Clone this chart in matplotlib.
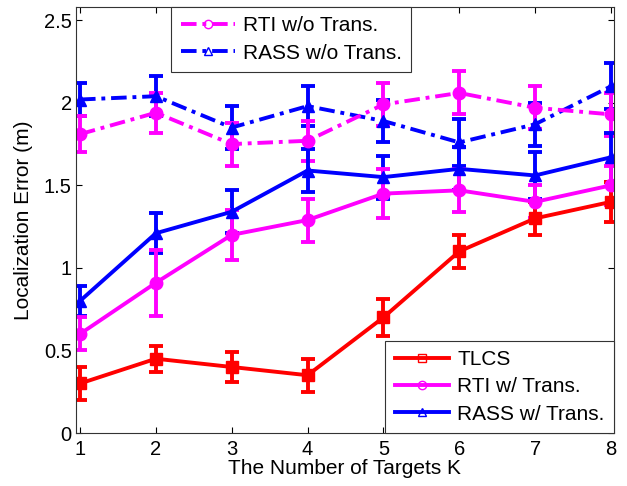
import matplotlib
matplotlib.use("Agg")
import matplotlib.pyplot as plt
from matplotlib.lines import Line2D

plt.rcParams['font.family'] = ['Liberation Sans', 'DejaVu Sans']

K = [1, 2, 3, 4, 5, 6, 7, 8]
tlcs = [0.30, 0.45, 0.40, 0.35, 0.70, 1.10, 1.30, 1.40]
tlcs_err = [0.10, 0.08, 0.09, 0.10, 0.11, 0.10, 0.10, 0.12]
rti_w = [0.60, 0.91, 1.20, 1.29, 1.45, 1.47, 1.40, 1.50]
rti_w_err = [0.10, 0.20, 0.15, 0.13, 0.15, 0.13, 0.10, 0.12]
rass_w = [0.80, 1.21, 1.34, 1.59, 1.55, 1.60, 1.56, 1.67]
rass_w_err = [0.09, 0.12, 0.13, 0.13, 0.13, 0.13, 0.14, 0.15]
rti_wo = [1.81, 1.94, 1.75, 1.77, 1.99, 2.06, 1.97, 1.93]
rti_wo_err = [0.11, 0.12, 0.13, 0.12, 0.13, 0.13, 0.13, 0.13]
rass_wo = [2.02, 2.04, 1.85, 1.98, 1.89, 1.76, 1.87, 2.10]
rass_wo_err = [0.10, 0.12, 0.13, 0.12, 0.13, 0.14, 0.13, 0.14]

labels_top = ['RTI w/o Trans.', 'RASS w/o Trans.']
labels_bot = ['TLCS', 'RTI w/ Trans.', 'RASS w/ Trans.']

fig = plt.figure(figsize=(6.27, 4.86), dpi=100)
ax = fig.add_axes([0.1212, 0.109, 0.858, 0.8765])

lw = 2.8
def eb(y, e, color, marker, ls, ms):
    ax.errorbar(K, y, yerr=e, color=color, marker=marker, ms=ms, ls=ls,
                lw=lw, elinewidth=lw, capsize=5, capthick=lw,
                markerfacecolor=color, markeredgecolor=color)

dd = (0, (4, 1.5, 1, 1.5))
eb(rass_wo, rass_wo_err, '#0000ff', '^', dd, 9)
eb(rti_wo, rti_wo_err, '#ff00ff', 'o', dd, 9)
eb(rass_w, rass_w_err, '#0000ff', '^', '-', 9)
eb(rti_w, rti_w_err, '#ff00ff', 'o', '-', 9)
eb(tlcs, tlcs_err, '#ff0000', 's', '-', 8)

ax.set_xlim(0.947, 8.04)
ax.set_ylim(0, 2.58)
ax.set_xticks(K)
ax.set_yticks([0, 0.5, 1, 1.5, 2, 2.5])
ax.set_yticklabels(['0', '0.5', '1', '1.5', '2', '2.5'])
ax.tick_params(direction='in', labelsize=14.5, length=4, top=True, right=True, pad=3)
ax.tick_params(axis='x', pad=5)
for s in ax.spines.values():
    s.set_linewidth(0.8)
    s.set_color('#333333')
ax.set_xlabel('The Number of Targets K', fontsize=15, labelpad=0)
ax.set_ylabel('Localization Error (m)', fontsize=15, labelpad=8)

h_top = [Line2D([], [], color='#ff00ff', ls=dd, lw=lw, marker='o', ms=6, mfc='none'),
         Line2D([], [], color='#0000ff', ls=dd, lw=lw, marker='^', ms=6, mfc='none')]
h_bot = [Line2D([], [], color='#ff0000', lw=lw, marker='s', ms=6, mfc='none'),
         Line2D([], [], color='#ff00ff', lw=lw, marker='o', ms=6, mfc='none'),
         Line2D([], [], color='#0000ff', lw=lw, marker='^', ms=6, mfc='none')]

common = dict(fontsize=15, fancybox=False, edgecolor='#333333', framealpha=1,
              handlelength=2.6, handletextpad=0.4, borderaxespad=0, labelspacing=0.4,
              borderpad=0.45)
leg1 = ax.legend(h_top, labels_top, loc='upper left', bbox_to_anchor=(0.177, 1.0), **common)
leg1.get_frame().set_linewidth(0.8)
ax.add_artist(leg1)
leg2 = ax.legend(h_bot, labels_bot, loc='lower right', bbox_to_anchor=(1.0, 0.0), **common)
leg2.get_frame().set_linewidth(0.8)

fig.savefig('out.png', dpi=100)
